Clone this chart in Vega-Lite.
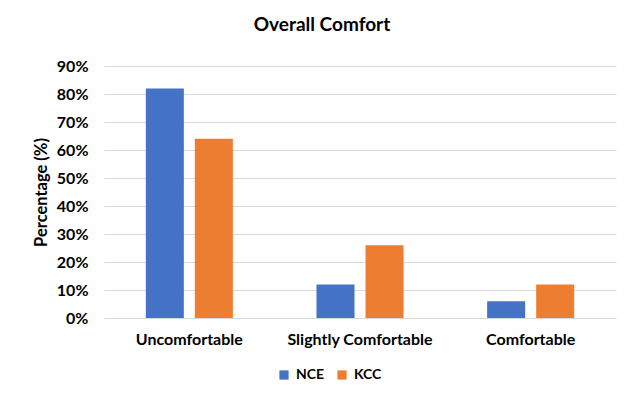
{
  "$schema": "https://vega.github.io/schema/vega-lite/v6.json",
  "autosize": {"type": "none"},
  "width": 512,
  "height": 252,
  "padding": {"left": 104, "top": 66, "right": 14, "bottom": 76},
  "background": "white",
  "title": {
    "text": "Overall Comfort",
    "font": "Lato",
    "fontSize": 19,
    "fontWeight": "bold",
    "color": "#000000",
    "anchor": "middle",
    "frame": "group",
    "dx": -38,
    "offset": 23
  },
  "data": {
    "values": [
      {"category": "Uncomfortable", "group": "NCE", "value": 0.82},
      {"category": "Uncomfortable", "group": "KCC", "value": 0.64},
      {"category": "Slightly Comfortable", "group": "NCE", "value": 0.12},
      {"category": "Slightly Comfortable", "group": "KCC", "value": 0.26},
      {"category": "Comfortable", "group": "NCE", "value": 0.06},
      {"category": "Comfortable", "group": "KCC", "value": 0.12}
    ]
  },
  "mark": {"type": "bar"},
  "encoding": {
    "x": {
      "field": "category",
      "type": "nominal",
      "sort": ["Uncomfortable", "Slightly Comfortable", "Comfortable"],
      "scale": {"paddingInner": 0.49, "paddingOuter": 0.245},
      "axis": {
        "title": null,
        "labelAngle": 0,
        "domain": false,
        "ticks": false,
        "labelFont": "Lato",
        "labelFontSize": 16,
        "labelFontWeight": "bold",
        "labelColor": "#000000",
        "labelPadding": 13
      }
    },
    "xOffset": {
      "field": "group",
      "type": "nominal",
      "sort": ["NCE", "KCC"],
      "scale": {"paddingInner": 0.2245, "paddingOuter": 0}
    },
    "y": {
      "field": "value",
      "type": "quantitative",
      "scale": {"domain": [0, 0.9]},
      "axis": {
        "title": "Percentage (%)",
        "format": ".0%",
        "values": [0, 0.1, 0.2, 0.3, 0.4, 0.5, 0.6, 0.7, 0.8, 0.9],
        "domain": false,
        "ticks": false,
        "gridColor": "#d9d9d9",
        "gridWidth": 1,
        "labelFont": "Lato",
        "labelFontSize": 16,
        "labelFontWeight": "bold",
        "labelColor": "#000000",
        "labelPadding": 16,
        "titleFont": "Lato",
        "titleFontSize": 16.5,
        "titleFontWeight": "bold",
        "titleColor": "#000000",
        "titlePadding": 7
      }
    },
    "color": {
      "field": "group",
      "type": "nominal",
      "sort": ["NCE", "KCC"],
      "scale": {"domain": ["NCE", "KCC"], "range": ["#4472C4", "#ED7D31"]},
      "legend": {
        "title": null,
        "orient": "none",
        "direction": "horizontal",
        "legendX": 173,
        "legendY": 302,
        "symbolType": "square",
        "symbolSize": 85,
        "symbolStrokeWidth": 0,
        "labelFont": "Lato",
        "labelFontSize": 14,
        "labelFontWeight": "bold",
        "labelColor": "#000000",
        "columnPadding": 10,
        "labelOffset": 5
      }
    }
  },
  "config": {"view": {"stroke": null}}
}
